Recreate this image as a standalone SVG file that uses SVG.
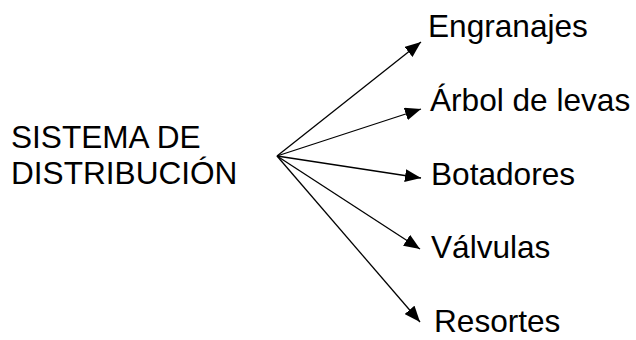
<svg xmlns="http://www.w3.org/2000/svg" width="636" height="340" viewBox="0 0 636 340">
<defs>
<style>
text{font-family:"Liberation Sans",Arial,sans-serif;font-size:31.6px;fill:#000}
.c line{stroke:#000;stroke-width:1.3;marker-end:url(#ah)}
</style>
<marker id="ah" markerUnits="userSpaceOnUse" markerWidth="17" markerHeight="13" refX="16" refY="6.5" orient="auto">
<path d="M0,0 L16,6.5 L0,13 z" fill="#000"/>
</marker>
</defs>
<rect width="636" height="340" fill="#fff"/>
<g id="root"><text x="11" y="148">SISTEMA DE</text><text x="11" y="184">DISTRIBUCIÓN</text></g>
<g id="n1"><text x="428" y="37">Engranajes</text></g>
<g id="n2"><text x="430" y="111">Árbol de levas</text></g>
<g id="n3"><text x="431" y="185">Botadores</text></g>
<g id="n4"><text x="431" y="258">Válvulas</text></g>
<g id="n5"><text x="434" y="332">Resortes</text></g>
<g class="c" id="connectors">
<line x1="277" y1="156" x2="421" y2="42"/>
<line x1="277" y1="156" x2="421" y2="109"/>
<line x1="277" y1="156" x2="421" y2="178"/>
<line x1="277" y1="156" x2="420" y2="249"/>
<line x1="277" y1="156" x2="420" y2="322"/>
</g>
</svg>
